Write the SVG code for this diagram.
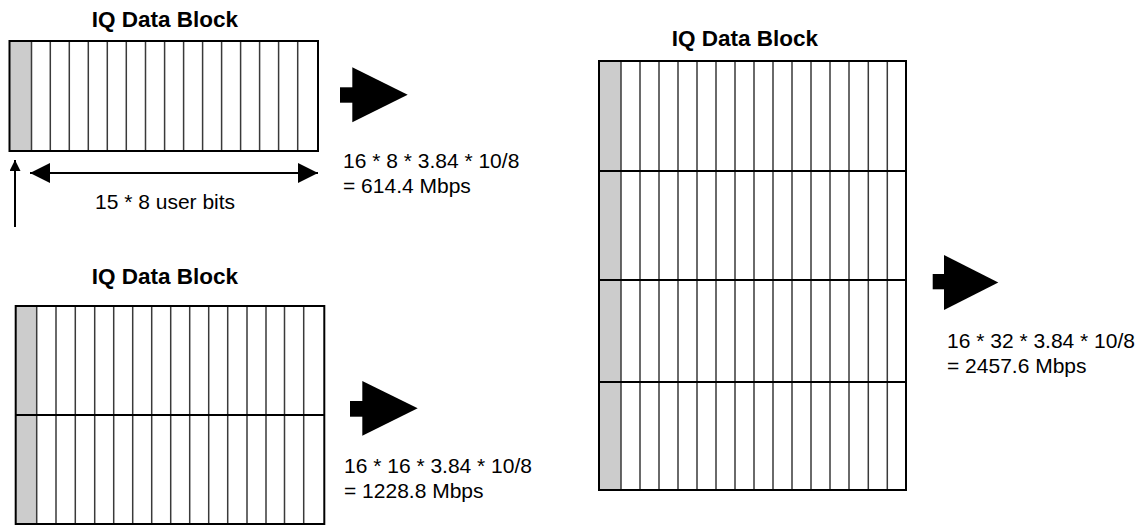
<svg xmlns="http://www.w3.org/2000/svg" width="1143" height="525" viewBox="0 0 1143 525">
<style>
  .title{font-family:"Liberation Sans",Arial,sans-serif;font-weight:bold;font-size:22.5px;fill:#000;text-anchor:middle}
  .lbl{font-family:"Liberation Sans",Arial,sans-serif;font-size:21px;fill:#000}
  .gray{fill:#cccccc;stroke:none}
  .outer{fill:none;stroke:#000;stroke-width:2}
  .col{fill:none;stroke:#3a3a3a;stroke-width:1.5}
  .row{fill:none;stroke:#000;stroke-width:1.8}
  .conn{stroke:#000;stroke-width:2;fill:none}
  .blk{fill:#000;stroke:none}
</style>
<defs>
  <marker id="ah" viewBox="0 0 20 20" refX="20" refY="10" markerWidth="20" markerHeight="20" markerUnits="userSpaceOnUse" orient="auto-start-reverse">
    <path d="M0,0 L20,10 L0,20 Z" fill="#000"/>
  </marker>
  <marker id="ahs" viewBox="0 0 14 11" refX="11" refY="5.5" markerWidth="14" markerHeight="11" markerUnits="userSpaceOnUse" orient="auto">
    <path d="M0,0 L11,5.5 L0,11 Z" fill="#000"/>
  </marker>
</defs>

<g id="block1">
  <text class="title" x="165" y="27">IQ Data Block</text>
  <rect class="gray" x="9.5" y="41" width="22" height="110"/>
  <path class="col" d="M31.5 41V151M50.3 41V151M69.3 41V151M88.3 41V151M107.3 41V151M126.3 41V151M145.5 41V151M164.6 41V151M183.6 41V151M202.6 41V151M221.6 41V151M240.6 41V151M259.6 41V151M278.6 41V151M297.7 41V151"/>
  <rect class="outer" x="9.5" y="41" width="308.5" height="110"/>
</g>

<g id="block2">
  <text class="title" x="165" y="284">IQ Data Block</text>
  <rect class="gray" x="15.7" y="306" width="21" height="218"/>
  <path class="col" d="M36.7 306V524M56 306V524M75.3 306V524M94.7 306V524M113.7 306V524M132.7 306V524M151.7 306V524M170.7 306V524M189.7 306V524M208.7 306V524M227.7 306V524M247 306V524M266 306V524M284.5 306V524M303.7 306V524"/>
  <path class="row" d="M15.7 415H324.3"/>
  <rect class="outer" x="15.7" y="306" width="308.6" height="218"/>
</g>

<g id="block3">
  <text class="title" x="745" y="46">IQ Data Block</text>
  <rect class="gray" x="599" y="61" width="22" height="429"/>
  <path class="col" d="M621 61V490M640 61V490M659 61V490M678 61V490M697 61V490M716 61V490M735 61V490M754 61V490M773 61V490M792 61V490M811 61V490M830 61V490M849 61V490M868.3 61V490M887.3 61V490"/>
  <path class="row" d="M599 171H906M599 280H906M599 382H906"/>
  <rect class="outer" x="599" y="61" width="307" height="429"/>
</g>

<g id="arrow1">
  <rect class="blk" x="340" y="87.3" width="13" height="15.4"/>
  <path class="blk" d="M352.3 67.3 L407.7 94.8 L352.3 122.3 Z"/>
</g>
<g id="rate1">
  <text class="lbl" x="343" y="168">16 * 8 * 3.84 * 10/8</text>
  <text class="lbl" x="343" y="193">= 614.4 Mbps</text>
</g>

<g id="arrow2">
  <rect class="blk" x="350" y="401" width="13" height="15.7"/>
  <path class="blk" d="M362.3 381 L417.7 408.3 L362.3 435.7 Z"/>
</g>
<g id="rate2">
  <text class="lbl" x="344" y="473">16 * 16 * 3.84 * 10/8</text>
  <text class="lbl" x="344" y="498">= 1228.8 Mbps</text>
</g>

<g id="arrow3">
  <rect class="blk" x="932.7" y="274" width="12" height="15.3"/>
  <path class="blk" d="M944 255 L998.3 282.5 L944 310 Z"/>
</g>
<g id="rate3">
  <text class="lbl" x="947" y="348">16 * 32 * 3.84 * 10/8</text>
  <text class="lbl" x="947" y="373">= 2457.6 Mbps</text>
</g>

<g id="span-label">
  <text class="lbl" x="95" y="209">15 * 8 user bits</text>
</g>

<g id="connectors">
  <line class="conn" x1="30" y1="173" x2="318" y2="173" marker-start="url(#ah)" marker-end="url(#ah)"/>
  <line class="conn" x1="15" y1="227" x2="15" y2="160" marker-end="url(#ahs)"/>
</g>
</svg>
